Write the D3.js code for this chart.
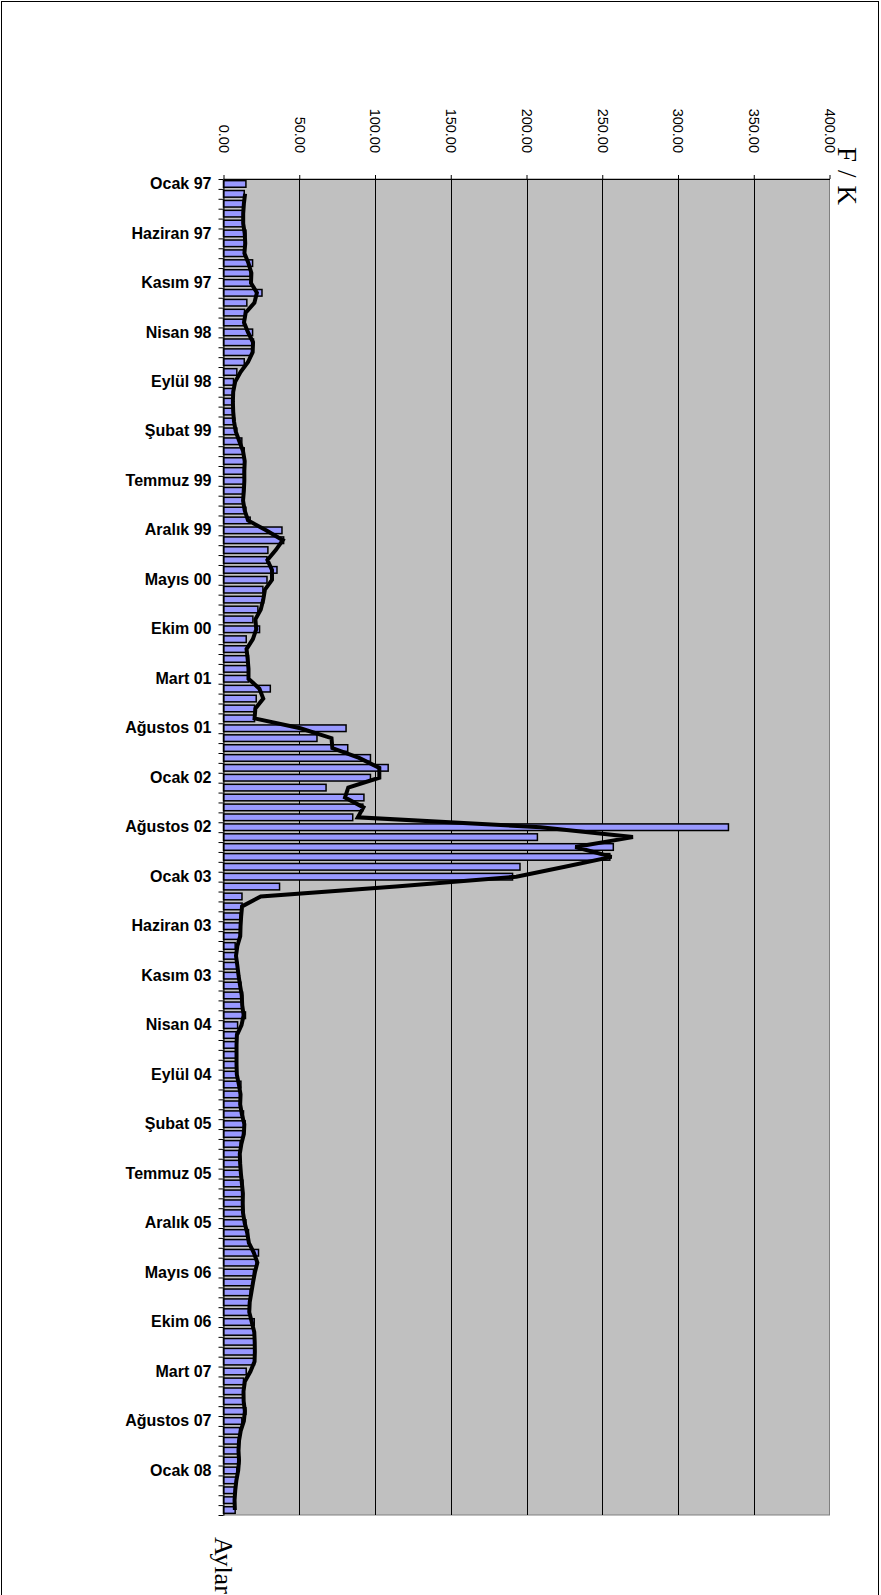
<!DOCTYPE html>
<html>
<head>
<meta charset="utf-8">
<script src="https://cdn.jsdelivr.net/npm/d3@7"></script>
<style>
  html, body { margin: 0; padding: 0; background: #fff; }
  svg { display: block; }
</style>
</head>
<body>
<svg id="chart" width="881" height="1595"></svg>
<script>
// Aylık dönemler (Ocak 1997 – Mayıs 2008)
const categories = [
  "Ocak 97","Şubat 97","Mart 97","Nisan 97","Mayıs 97","Haziran 97","Temmuz 97","Ağustos 97","Eylül 97","Ekim 97","Kasım 97","Aralık 97",
  "Ocak 98","Şubat 98","Mart 98","Nisan 98","Mayıs 98","Haziran 98","Temmuz 98","Ağustos 98","Eylül 98","Ekim 98","Kasım 98","Aralık 98",
  "Ocak 99","Şubat 99","Mart 99","Nisan 99","Mayıs 99","Haziran 99","Temmuz 99","Ağustos 99","Eylül 99","Ekim 99","Kasım 99","Aralık 99",
  "Ocak 00","Şubat 00","Mart 00","Nisan 00","Mayıs 00","Haziran 00","Temmuz 00","Ağustos 00","Eylül 00","Ekim 00","Kasım 00","Aralık 00",
  "Ocak 01","Şubat 01","Mart 01","Nisan 01","Mayıs 01","Haziran 01","Temmuz 01","Ağustos 01","Eylül 01","Ekim 01","Kasım 01","Aralık 01",
  "Ocak 02","Şubat 02","Mart 02","Nisan 02","Mayıs 02","Ağustos 02","Eylül 02","Ekim 02","Kasım 02","Aralık 02",
  "Ocak 03","Şubat 03","Mart 03","Nisan 03","Mayıs 03","Haziran 03","Temmuz 03","Ağustos 03","Eylül 03","Ekim 03","Kasım 03","Aralık 03",
  "Ocak 04","Şubat 04","Mart 04","Nisan 04","Mayıs 04","Haziran 04","Temmuz 04","Ağustos 04","Eylül 04","Ekim 04","Kasım 04","Aralık 04",
  "Ocak 05","Şubat 05","Mart 05","Nisan 05","Mayıs 05","Haziran 05","Temmuz 05","Ağustos 05","Eylül 05","Ekim 05","Kasım 05","Aralık 05",
  "Ocak 06","Şubat 06","Mart 06","Nisan 06","Mayıs 06","Haziran 06","Temmuz 06","Ağustos 06","Eylül 06","Ekim 06","Kasım 06","Aralık 06",
  "Ocak 07","Şubat 07","Mart 07","Nisan 07","Mayıs 07","Haziran 07","Temmuz 07","Ağustos 07","Eylül 07","Ekim 07","Kasım 07","Aralık 07",
  "Ocak 08","Şubat 08","Mart 08","Nisan 08","Mayıs 08"
];

// F/K oranı, her dönem için
const fkValues = [
  14.8, 13.7, 13.2, 12.8, 13.2, 14.8, 13.9, 13.7, 19.2, 17.6, 18.7, 25.4,
  15.4, 13.9, 13.2, 19.2, 19.8, 18.7, 13.7, 8.8, 6.6, 6.2, 6.2, 6.6,
  7.3, 8.8, 12.1, 13.7, 14.3, 13.2, 14.3, 12.6, 13.2, 14.8, 17.6, 38.6,
  39.7, 29.3, 28.7, 35.3, 28.7, 26.0, 26.5, 22.7, 19.4, 23.8, 15.0, 15.4,
  16.5, 16.5, 16.5, 30.9, 21.6, 20.5, 20.5, 80.9, 61.7, 82.0, 97.0, 108.7,
  97.0, 67.7, 92.7, 92.0, 85.3,
  333.3, 207.2, 257.3, 255.0, 195.7, 190.8, 37.0, 12.2, 12.3, 11.0, 11.5, 10.6,
  7.7, 8.8, 9.5, 10.4, 11.5, 12.6, 12.1, 14.5, 9.3, 8.4, 8.8, 8.4,
  8.8, 8.8, 11.5, 11.0, 11.0, 13.2, 14.3, 12.6, 11.0, 10.5, 11.5, 11.5,
  12.8, 12.8, 12.6, 13.2, 14.8, 16.5, 17.0, 23.1, 21.6, 19.8, 19.2, 17.6,
  17.0, 17.0, 20.3, 20.3, 20.9, 20.5, 20.5, 15.0, 13.2, 13.2, 13.4, 14.8,
  12.1, 10.6, 9.9, 9.9, 10.6, 8.8, 8.2, 7.3, 7.3, 7.7
];

const valueTicks = [0, 50, 100, 150, 200, 250, 300, 350, 400];
const labelInterval = 5;      // her 5 dönemde bir etiket
const trendPeriod = 2;        // hareketli ortalama dönemi
const valueTitle = "F/K";
const categoryTitle = "Aylar";

const plot = { left: 223.5, right: 829.5, top: 179, bottom: 1515 };
const svg = d3.select("#chart");

// dış çerçeve
svg.append("rect")
  .attr("x", 1.5).attr("y", 1.5)
  .attr("width", 877).attr("height", 1620)
  .attr("fill", "#fff").attr("stroke", "#000").attr("stroke-width", 1);

const x = d3.scaleLinear().domain([0, 400]).range([plot.left, plot.right]);
const y = d3.scaleBand()
  .domain(d3.range(categories.length))
  .range([plot.top, plot.bottom])
  .paddingInner(1 / 3)
  .paddingOuter(1 / 6);
const yEdge = d3.scaleLinear().domain([0, categories.length]).range([plot.top, plot.bottom]);

// çizim alanı
svg.append("rect")
  .attr("x", plot.left).attr("y", plot.top)
  .attr("width", plot.right - plot.left).attr("height", plot.bottom - plot.top)
  .attr("fill", "#C0C0C0").attr("stroke", "#808080").attr("stroke-width", 1);

// dikey ızgara çizgileri
svg.append("g")
  .selectAll("line")
  .data(valueTicks.filter(v => v > 0 && v < 400))
  .join("line")
  .attr("x1", d => Math.round(x(d)) + 0.5).attr("x2", d => Math.round(x(d)) + 0.5)
  .attr("y1", plot.top).attr("y2", plot.bottom)
  .attr("stroke", "#000").attr("stroke-width", 1);

// çubuklar
svg.append("g")
  .selectAll("rect")
  .data(fkValues)
  .join("rect")
  .attr("x", x(0))
  .attr("y", (d, i) => y(i))
  .attr("width", d => x(d) - x(0))
  .attr("height", y.bandwidth())
  .attr("fill", "#9999FF")
  .attr("stroke", "#000")
  .attr("stroke-width", 1.5);

// 2 dönemlik hareketli ortalama eğilim çizgisi
const trend = d3.range(trendPeriod - 1, fkValues.length).map(i => ({
  i,
  v: d3.mean(fkValues.slice(i - trendPeriod + 1, i + 1))
}));
svg.append("path")
  .datum(trend)
  .attr("fill", "none")
  .attr("stroke", "#000")
  .attr("stroke-width", 4)
  .attr("stroke-linejoin", "miter")
  .attr("d", d3.line()
    .x(d => x(d.v))
    .y(d => y(d.i) + y.bandwidth() / 2));

// kategori ekseni: her dönem sınırında çentik
const catAxis = svg.append("g")
  .attr("transform", `translate(${plot.left},0)`)
  .call(d3.axisLeft(yEdge)
    .tickValues(d3.range(categories.length + 1))
    .tickFormat("")
    .tickSize(5)
    .tickSizeOuter(0));
catAxis.selectAll("line, path").attr("stroke", "#000");

// kategori etiketleri
const catLabels = svg.append("g")
  .attr("transform", `translate(${plot.left},0)`)
  .call(d3.axisLeft(y)
    .tickValues(d3.range(categories.length).filter(i => i % labelInterval === 0))
    .tickFormat(i => categories[i])
    .tickSize(0)
    .tickPadding(12));
catLabels.select(".domain").remove();
catLabels.selectAll("text")
  .attr("font-family", "'Liberation Sans', Arial, sans-serif")
  .attr("font-size", 16)
  .attr("font-weight", "bold")
  .attr("fill", "#000");

// değer ekseni (üstte, dikey yazılı etiketler)
const valAxis = svg.append("g")
  .attr("transform", `translate(0,${plot.top})`)
  .call(d3.axisTop(x)
    .tickValues(valueTicks)
    .tickFormat(d3.format(".2f"))
    .tickSize(4)
    .tickSizeOuter(0));
valAxis.selectAll("line, path").attr("stroke", "#000");
valAxis.selectAll("text")
  .attr("x", 0).attr("y", 0)
  .attr("dy", "0.35em")
  .attr("text-anchor", "end")
  .attr("transform", "translate(0,-26) rotate(90)")
  .attr("font-family", "'Liberation Sans', Arial, sans-serif")
  .attr("font-size", 14.5)
  .attr("fill", "#000");

// eksen başlıkları
svg.append("text")
  .attr("transform", "translate(847,147) rotate(90)")
  .attr("dy", "0.35em")
  .attr("font-family", "'Liberation Serif', 'Times New Roman', serif")
  .attr("font-size", 27)
  .attr("letter-spacing", 8)
  .attr("fill", "#000")
  .text(valueTitle);

svg.append("text")
  .attr("transform", "translate(224,1537) rotate(90)")
  .attr("dy", "0.35em")
  .attr("font-family", "'Liberation Serif', 'Times New Roman', serif")
  .attr("font-size", 26)
  .attr("fill", "#000")
  .text(categoryTitle);
</script>
</body>
</html>
